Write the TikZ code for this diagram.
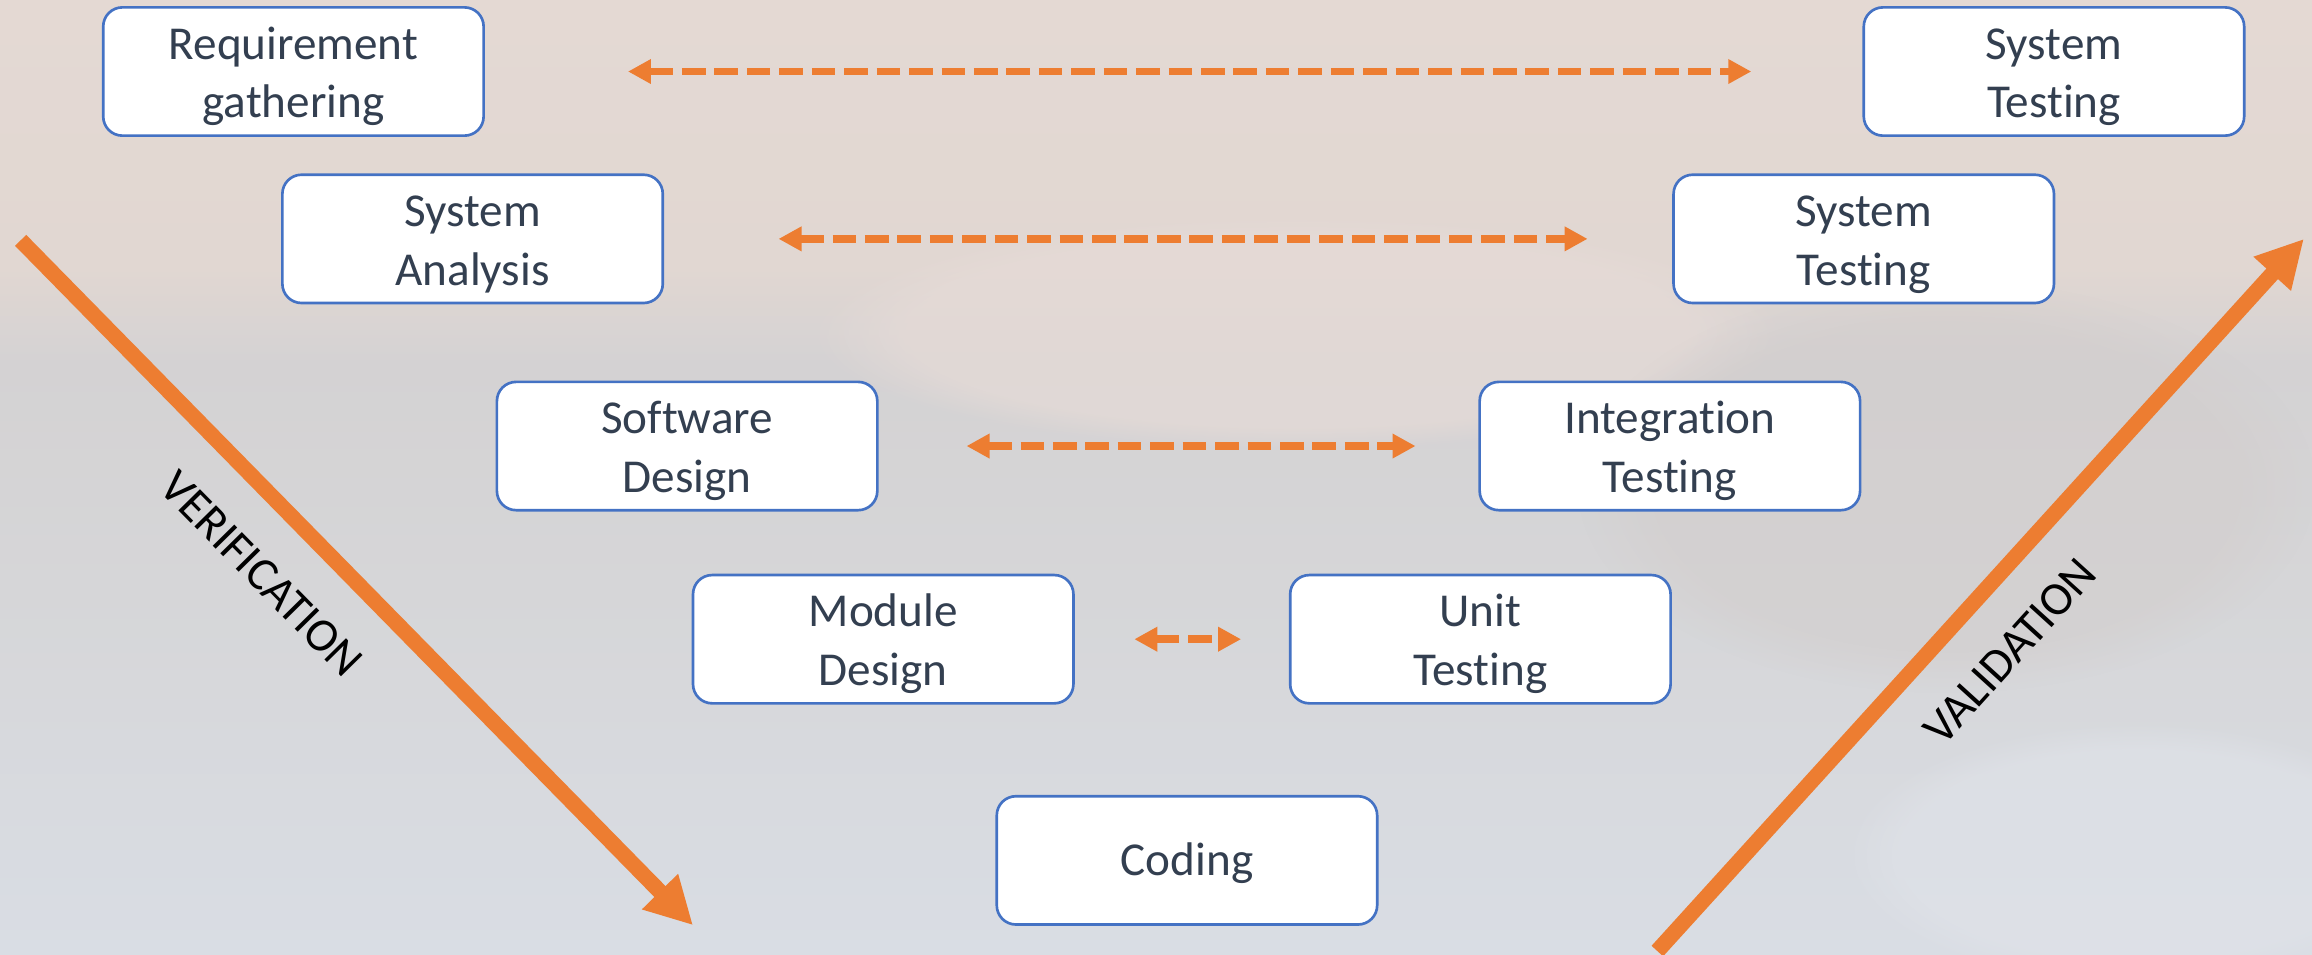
\documentclass[tikz,border=0pt]{standalone}
\usepackage{fontspec}
\setmainfont{Carlito}[Ligatures=NoCommon]
\usetikzlibrary{arrows.meta,fadings}
\definecolor{boxblue}{RGB}{68,114,196}
\definecolor{txt}{RGB}{51,63,80}
\definecolor{vorange}{RGB}{237,125,49}
\definecolor{bgtop}{RGB}{228,217,211}
\definecolor{bgtopb}{RGB}{225,215,210}
\definecolor{bgband}{RGB}{212,210,211}
\definecolor{bgmid}{RGB}{214,214,216}
\definecolor{bgbot}{RGB}{217,221,228}
\definecolor{blobpink}{RGB}{230,219,215}
\definecolor{blobgray}{RGB}{210,205,204}
\definecolor{blobblue}{RGB}{224,227,233}
\pgfdeclareverticalshading{bgshade}{100bp}{color(0bp)=(bgbot); color(25bp)=(bgbot); color(44bp)=(bgmid); color(56bp)=(bgband); color(61bp)=(bgtopb); color(75bp)=(bgtop); color(100bp)=(bgtop)}
\newcommand\stagelines[2][-1.8pt]{\raisebox{#1}[\height][\depth]{\begin{tabular}{@{}c@{}}#2\end{tabular}}}
\begin{document}
\begin{tikzpicture}[x=0.5pt,y=-0.5pt,
  stage/.style={draw=boxblue, line width=0.9pt, fill=white, rounded corners=6.5pt,
    minimum width=129pt, minimum height=43.5pt, align=center, text=txt,
    font=\fontsize{16}{19.85}\selectfont, inner sep=0pt},
  link/.style={draw=vorange, line width=2.6pt, dash pattern=on 8pt off 3pt,
    {Triangle[length=7.8pt,width=7.9pt]}-{Triangle[length=7.8pt,width=7.9pt]}},
  bigarrow/.style={draw=vorange, line width=5.3pt, -{Triangle[length=16pt,width=16pt]}},
  vlabel/.style={font=\fontsize{16}{19}\selectfont, text=black, inner sep=0pt}]
\useasboundingbox (0,0) rectangle (1568,647.68);
% background
\shade[shading=bgshade] (0,0) rectangle (1568,647.68);
\fill[blobpink, opacity=0.7, path fading=circle with fuzzy edge 20 percent] (880,225) ellipse [x radius=330, y radius=80];
\fill[blobgray, opacity=0.5, path fading=circle with fuzzy edge 20 percent] (1320,330) ellipse [x radius=250, y radius=140];
\fill[blobblue, opacity=0.6, path fading=circle with fuzzy edge 20 percent] (1450,580) ellipse [x radius=200, y radius=90];
% stages
\node[stage] (req) at (199,48.5) {\stagelines{Requirement\\gathering}};
\node[stage] (st1) at (1393,48.5) {\stagelines{System\\Testing}};
\node[stage] (sa) at (320.5,162) {\stagelines{System\\Analysis}};
\node[stage] (st2) at (1264,162) {\stagelines{System\\Testing}};
\node[stage] (sd) at (466,302.5) {\stagelines{Software\\Design}};
\node[stage] (it) at (1132.5,302.5) {\stagelines{Integration\\Testing}};
\node[stage] (md) at (599,433.5) {\stagelines{Module\\Design}};
\node[stage] (ut) at (1004,433.5) {\stagelines{Unit\\Testing}};
\node[stage] (cod) at (805,583.5) {\stagelines[-1pt]{Coding}};
% links
\draw[link, shorten <=48.5pt, shorten >=37.7pt] (req.east) -- (st1.west);
\draw[link, shorten <=38.8pt, shorten >=28.7pt] (sa.east) -- (st2.west);
\draw[link, shorten <=29.8pt, shorten >=21.3pt] (sd.east) -- (it.west);
\draw[link, shorten <=20.2pt, shorten >=16.2pt] (md.east) -- (ut.west);
% big arrows
\coordinate (vtop) at (14,163);
\coordinate (vbot) at (470,627.5);
\coordinate (abot) at (1124,645);
\coordinate (atop) at (1562.5,162);
\draw[bigarrow] (vtop) -- (vbot);
\draw[bigarrow] (abot) -- (atop);
\node[vlabel, rotate=-45.5] (verif) at (177.5,389) {VERIFICATION};
\node[vlabel, rotate=47.8] (valid) at (1363,442) {VALIDATION};
\end{tikzpicture}
\end{document}
